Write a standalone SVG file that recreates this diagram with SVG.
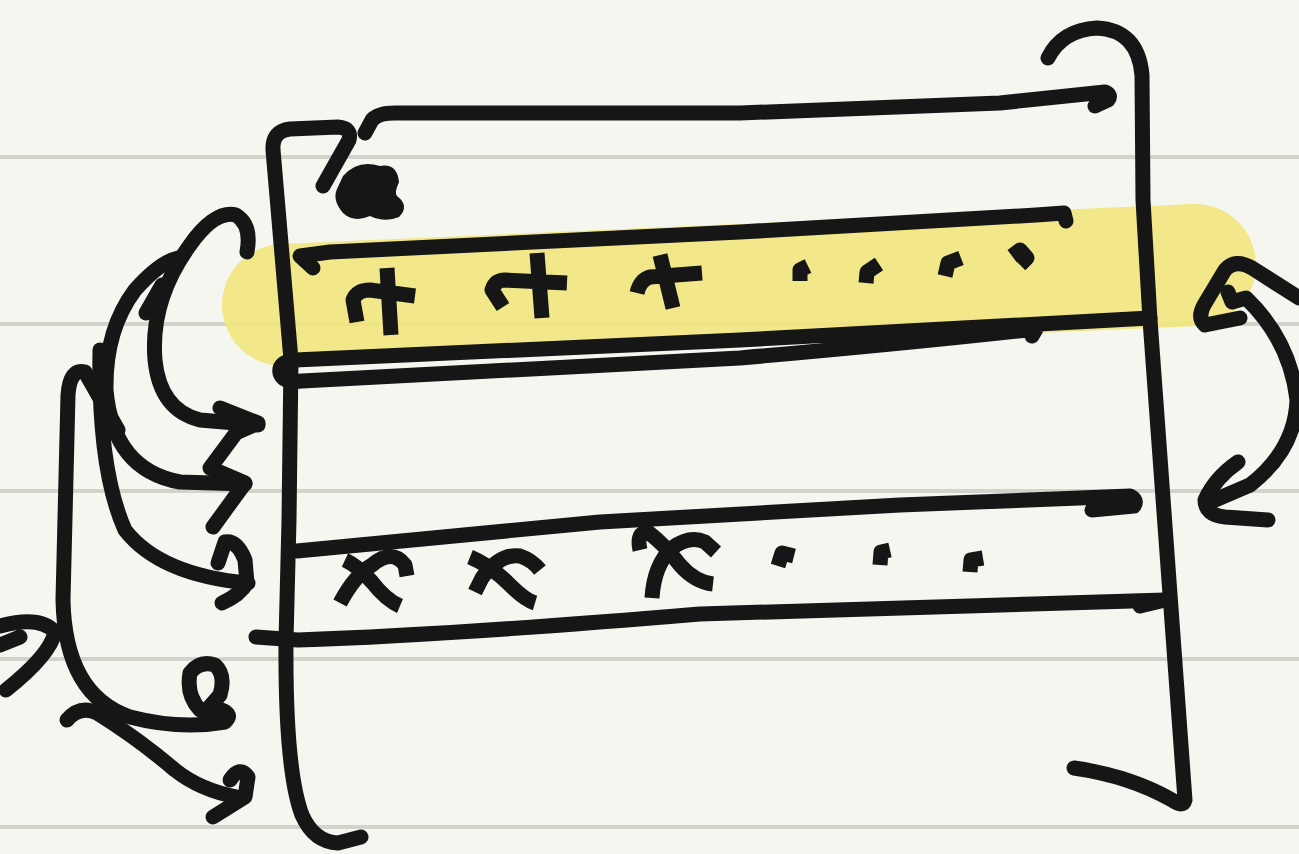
<svg xmlns="http://www.w3.org/2000/svg" width="1299" height="854" viewBox="0 0 1299 854">
<defs>
<style>
.rule{stroke:#d3d3cb;stroke-width:4;fill:none}
.ink{stroke:#161616;stroke-width:15;fill:none;stroke-linecap:round;stroke-linejoin:round}
.mark{stroke:#161616;stroke-width:15;fill:none;stroke-linecap:butt;stroke-linejoin:round}
.hl{stroke:#f1e67a;stroke-width:122;stroke-linecap:round;fill:none;opacity:0.88}
</style>
</defs>
<rect width="1299" height="854" fill="#f6f6f1"/>
<g id="rules">
<line class="rule" x1="0" y1="157" x2="1299" y2="157"/>
<line class="rule" x1="0" y1="324" x2="1299" y2="324"/>
<line class="rule" x1="0" y1="491" x2="1299" y2="491"/>
<line class="rule" x1="0" y1="659" x2="1299" y2="659"/>
<line class="rule" x1="0" y1="827" x2="1299" y2="827"/>
</g>
<g id="highlight">
<path class="hl" d="M283,305 L1195,265"/>
</g>
<g id="frame">
<path class="ink" d="M323,186 L349,140 Q352,128 338,127 L290,129 Q272,131 273,150 L291,360 L289,520 L286,640 Q285,770 302,815 Q314,842 338,843 L361,837"/>
<path class="ink" d="M365,133 L372,120 Q378,113 395,113 L740,113 L1000,103 L1105,92 Q1112,95 1108,100 L1095,106"/>
<path class="ink" d="M1048,58 Q1062,30 1097,28 Q1138,30 1142,75 L1143,200 L1150,320 L1185,800 Q1183,808 1172,800 Q1130,776 1074,768"/>
<path d="M343,176 Q358,159 380,166 Q397,163 399,182 Q394,193 397,196 Q410,206 399,217 Q385,223 370,216 Q354,223 343,213 Q332,200 337,189 Z" fill="#161616"/>
</g>
<g id="row-t">
<path class="ink" d="M313,268 L300,256 L330,252 L740,232 L1036,215 L1064,213 L1066,221"/>
<path class="ink" d="M1150,318 L740,340 L295,360 Q278,362 280,373 Q283,383 302,381 L740,358 Q900,344 1036,329 L1032,336"/>
<path class="mark" d="M387,268 L391,335 M357,322 L353,300 Q357,290 370,290 L415,296"/>
<path class="mark" d="M537,253 L542,318 M503,307 L492,290 Q495,280 505,280 L567,283"/>
<path class="mark" d="M660,255 L673,308 M637,293 Q640,280 650,277 L702,273"/>
<path class="mark" d="M800,281 L800,270 L808,266"/>
<path class="mark" d="M866,283 L867,272 L879,264"/>
<path class="mark" d="M945,276 L948,263 L961,258"/>
<path class="mark" d="M1012,256 L1020,250 L1027,258 L1020,265"/>
</g>
<g id="row-x">
<path class="ink" d="M297,551 L600,522 L900,505 L1130,496 Q1138,500 1134,506 L1092,510"/>
<path class="ink" d="M256,637 L298,640 Q450,635 700,614 L1165,600 L1140,606"/>
<path class="mark" d="M340,603 Q355,575 372,565 Q392,548 405,565 L407,576 M345,560 Q358,566 372,582 Q386,600 400,606"/>
<path class="mark" d="M475,592 L482,578 Q500,553 520,556 Q532,560 540,570 M470,557 Q490,565 510,585 Q525,600 535,603"/>
<path class="mark" d="M640,550 Q636,532 648,532 Q665,545 680,565 Q695,582 713,584 M652,598 Q654,565 672,548 Q690,535 705,542 L716,552"/>
<path class="mark" d="M778,566 L782,553 L794,556"/>
<path class="mark" d="M880,565 L881,552 L890,550"/>
<path class="mark" d="M970,572 L971,560 L983,558"/>
</g>
<g id="connectors">
<path class="ink" d="M247,252 Q252,225 236,215 Q215,210 190,245 Q150,300 155,360 Q160,410 200,420 L258,425"/>
<path class="ink" d="M220,408 L258,423 L236,433 L210,468 L245,483 L213,527"/>
<path class="ink" d="M178,258 Q160,262 135,290 Q105,330 106,390 Q113,470 180,482 L245,484"/>
<path class="ink" d="M146,313 L162,285"/>
<path class="ink" d="M100,350 Q98,470 125,530 Q160,575 248,583"/>
<path class="ink" d="M218,563 L225,542 Q237,540 245,560 L247,583 Q240,595 222,603"/>
<path class="ink" d="M118,430 L85,372 Q70,368 68,395 L63,600 Q65,695 130,717 Q180,730 225,722 Q235,712 215,708 L200,710 Q186,695 190,673 Q200,660 215,665 Q226,675 220,695 L205,712"/>
<path class="ink" d="M67,720 Q80,705 97,713 Q140,740 175,770 Q200,790 237,797"/>
<path class="ink" d="M230,780 Q240,765 248,777 L245,797 L213,817"/>
<path class="ink" d="M0,626 Q40,615 55,632 Q50,655 6,690 M0,645 L20,637"/>
<path class="ink" d="M1240,318 L1205,325 Q1197,318 1204,305 L1225,270 Q1235,258 1252,268 L1299,298"/>
<path class="ink" d="M1228,292 L1232,302 L1246,298 Q1290,340 1297,400 Q1295,450 1250,485 L1215,500"/>
<path class="ink" d="M1238,462 Q1215,478 1205,500 Q1205,515 1225,517 L1268,520"/>
</g>
</svg>
